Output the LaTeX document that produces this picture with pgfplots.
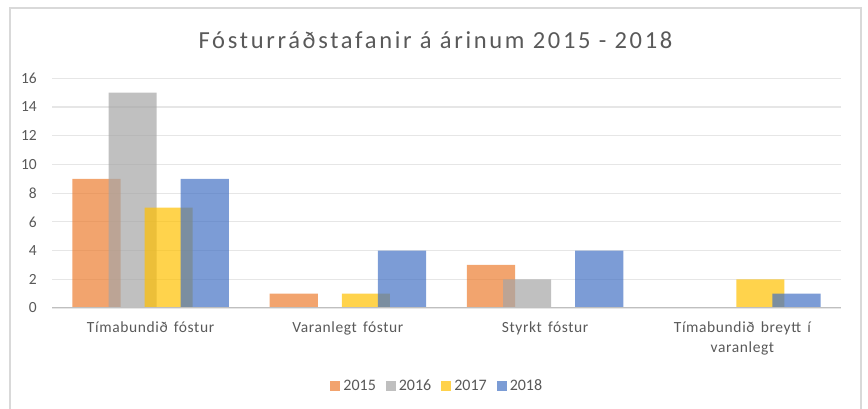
\documentclass[border=0pt]{standalone}
\usepackage{fontspec}
\setmainfont{Carlito}
\newfontfamily\titlefont[LetterSpace=11]{Carlito}
\newfontfamily\catfont[LetterSpace=4]{Carlito}
\usepackage{pgfplots}
\pgfplotsset{compat=1.18}
\definecolor{c15}{HTML}{ED7D31}
\definecolor{c16}{HTML}{A5A5A5}
\definecolor{c17}{HTML}{FFC000}
\definecolor{c18}{HTML}{4472C4}
\definecolor{txt}{HTML}{595959}
\definecolor{gridc}{HTML}{E6E6E6}
\definecolor{axc}{HTML}{BFBFBF}
\definecolor{borderc}{HTML}{D9D9D9}
\begin{document}
\begin{tikzpicture}[x=1pt,y=1pt]
\path[use as bounding box] (0,0) rectangle (868,409);
\draw[borderc, line width=1.5pt] (10,-2) -- (10,401) -- (861,401) -- (861,-2);
\node[anchor=base, text=txt, font=\titlefont\fontsize{24.5}{29}\selectfont] at (435.5,360) {Fósturráðstafanir á árinum 2015 - 2018};
\begin{axis}[
  at={(52pt,101pt)}, anchor=south west,
  scale only axis, width=789pt, height=229.7pt,
  xmin=-0.5, xmax=3.5, ymin=0, ymax=16,
  ytick={0,2,...,16},
  xtick={0,1,2,3},
  xticklabels={{Tímabundið\hspace{0.4em}fóstur},{Varanlegt\hspace{0.4em}fóstur},{Styrkt\hspace{0.4em}fóstur},{Tímabundið\hspace{0.4em}breytt\hspace{0.4em}í\\varanlegt}},
  axis line style={draw=none},
  major tick length=0pt,
  ymajorgrids, grid style={gridc, line width=1.2pt},
  /pgf/number format/assume math mode=true,
  yticklabel style={font=\fontsize{15.5}{18}\selectfont, text=txt, inner sep=0pt, anchor=east, xshift=-15pt},
  xticklabel style={font=\catfont\fontsize{15.5}{20}\selectfont, text=txt, inner sep=0pt, anchor=north, align=center, yshift=-14pt},
  legend image code/.code={\fill[#1] (0pt,-5pt) rectangle (10pt,5pt);},
  legend style={at={(0.489,-0.34)}, anchor=center, draw=none, legend columns=4,
    font=\fontsize{16}{19}\selectfont, text=txt,
    nodes={inner sep=0pt, inner xsep=3pt},
    /tikz/every even column/.append style={column sep=7pt}},
]
\addplot[ybar, bar width=0.244, bar shift=-0.2745, fill=c15, fill opacity=0.7, draw=none, forget plot] coordinates {(0,9) (1,1) (2,3)};
\addplot[ybar, bar width=0.244, bar shift=-0.0915, fill=c16, fill opacity=0.7, draw=none, forget plot] coordinates {(0,15) (2,2)};
\addplot[ybar, bar width=0.244, bar shift=0.0915, fill=c17, fill opacity=0.7, draw=none, forget plot] coordinates {(0,7) (1,1) (3,2)};
\addplot[ybar, bar width=0.244, bar shift=0.2745, fill=c18, fill opacity=0.7, draw=none, forget plot] coordinates {(0,9) (1,4) (2,4) (3,1)};
\draw[axc, line width=1.5pt] (axis cs:-0.5,0) -- (axis cs:3.5,0);
\addlegendimage{fill=c15, fill opacity=0.7, draw=none}
\addlegendentry{2015}
\addlegendimage{fill=c16, fill opacity=0.7, draw=none}
\addlegendentry{2016}
\addlegendimage{fill=c17, fill opacity=0.7, draw=none}
\addlegendentry{2017}
\addlegendimage{fill=c18, fill opacity=0.7, draw=none}
\addlegendentry{2018}
\end{axis}
\end{tikzpicture}
\end{document}
